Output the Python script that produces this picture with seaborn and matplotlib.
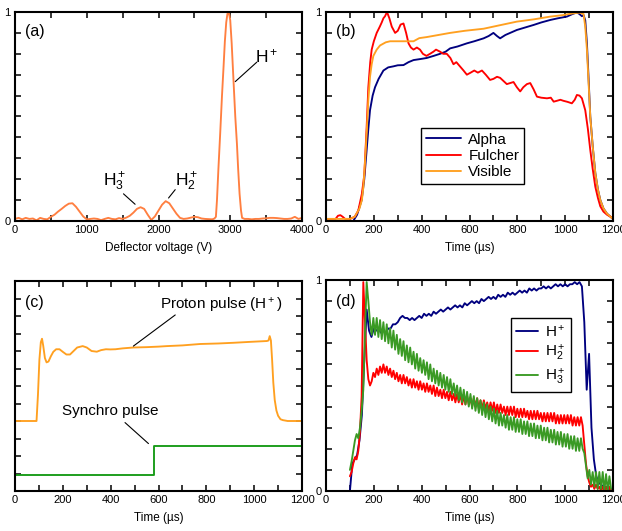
import numpy as np
import pandas as pd
import matplotlib
matplotlib.use("Agg")
import matplotlib.pyplot as plt
import seaborn as sns
from matplotlib.ticker import MultipleLocator, FixedLocator
from matplotlib.lines import Line2D

# ---------------- data ----------------
# (a) deflector voltage scan
volt_low = list(range(0, 2751, 50))
sig_low = [0.01, 0.015, 0.008, 0.015, 0.01, 0.012, 0.003, 0.015, 0.01, 0.008,
           0.02, 0.03, 0.045, 0.058, 0.072, 0.083, 0.085, 0.068, 0.045, 0.022,
           0.008, 0.01, 0.012, 0.01, 0.004, 0.01, 0.015, 0.01, 0.008, 0.014,
           0.01, 0.016, 0.025, 0.04, 0.058, 0.066, 0.058, 0.03, 0.005, 0.022,
           0.05, 0.078, 0.095, 0.085, 0.06, 0.035, 0.015, 0.01, 0.012, 0.016,
           0.02, 0.018, 0.012, 0.01, 0.009, 0.008]
volt_peak = [2780, 2800, 2815, 2835, 2860, 2885, 2907, 2925, 2944, 2960, 2972,
             2985, 3000, 3020, 3047, 3070, 3093, 3110, 3130, 3150, 3165]
sig_peak = [0.012, 0.02, 0.1, 0.25, 0.42, 0.6, 0.74, 0.86, 0.95, 0.99, 1.0,
            0.99, 0.96, 0.85, 0.66, 0.5, 0.37, 0.25, 0.13, 0.05, 0.015]
volt_high = list(range(3200, 4001, 50))
sig_high = [0.01, 0.01, 0.008, 0.01, 0.01, 0.012, 0.013, 0.015, 0.015, 0.014,
            0.012, 0.01, 0.01, 0.012, 0.02, 0.01, 0.015]

# (b) spectroscopy signals
t_alpha = [0, 50, 100, 114, 130, 149, 160, 170, 177, 184,
           195, 205, 220, 240, 260, 282, 300, 324, 345, 366,
           395, 421, 450, 477, 500, 519, 550, 589, 620, 659,
           680, 700, 715, 728, 750, 798, 830, 868, 900, 938,
           970, 1007, 1030, 1049, 1060, 1070, 1077, 1084, 1091, 1098,
           1105, 1115, 1126, 1137, 1147, 1160, 1175, 1190, 1200]
alpha = [0.0, 0.0, 0.0, 0.0, 0.03, 0.10, 0.20, 0.34, 0.44, 0.53,
         0.60, 0.64, 0.68, 0.72, 0.735, 0.74, 0.745, 0.746, 0.76, 0.77,
         0.775, 0.78, 0.79, 0.80, 0.81, 0.826, 0.835, 0.85, 0.86, 0.874,
         0.885, 0.90, 0.885, 0.874, 0.89, 0.914, 0.925, 0.938, 0.95, 0.962,
         0.97, 0.978, 0.99, 0.998, 0.99, 0.98, 0.985, 0.96, 0.85, 0.68,
         0.50, 0.36, 0.23, 0.15, 0.10, 0.06, 0.035, 0.02, 0.01]
t_fulcher = [0, 20, 40, 50, 60, 70, 80, 100, 120, 135,
             150, 160, 170, 177, 185, 191, 200, 212, 225, 233,
             240, 247, 255, 265, 275, 289, 300, 312, 324, 335,
             345, 355, 366, 380, 393, 405, 420, 435, 449, 460,
             477, 490, 505, 520, 533, 545, 560, 575, 589, 605,
             620, 635, 652, 668, 686, 700, 715, 728, 742, 756,
             770, 784, 798, 812, 825, 840, 854, 868, 882, 900,
             924, 940, 952, 965, 980, 993, 1010, 1028, 1040, 1049,
             1060, 1070, 1084, 1095, 1105, 1115, 1126, 1137, 1147, 1160,
             1175, 1190, 1200]
fulcher = [0.01, 0.01, 0.01, 0.025, 0.028, 0.02, 0.01, 0.01, 0.02, 0.05,
           0.13, 0.22, 0.45, 0.64, 0.76, 0.82, 0.86, 0.90, 0.93, 0.95,
           0.97, 0.98, 1.0, 0.97, 0.93, 0.90, 0.91, 0.94, 0.945, 0.90,
           0.85, 0.83, 0.82, 0.83, 0.82, 0.80, 0.79, 0.80, 0.81, 0.82,
           0.81, 0.80, 0.80, 0.78, 0.75, 0.76, 0.74, 0.72, 0.70, 0.71,
           0.72, 0.71, 0.72, 0.70, 0.675, 0.68, 0.69, 0.685, 0.67, 0.655,
           0.66, 0.665, 0.64, 0.62, 0.64, 0.655, 0.66, 0.63, 0.595, 0.59,
           0.587, 0.59, 0.571, 0.575, 0.58, 0.575, 0.57, 0.563, 0.58, 0.603,
           0.60, 0.587, 0.53, 0.44, 0.34, 0.25, 0.164, 0.11, 0.07, 0.045,
           0.03, 0.02, 0.01]
t_visible = [0, 50, 100, 120, 140, 150, 156, 163, 170, 177,
             184, 191, 198, 212, 226, 250, 268, 300, 340, 366,
             390, 421, 470, 519, 580, 659, 720, 798, 870, 938,
             990, 1035, 1060, 1077, 1084, 1091, 1098, 1105, 1115, 1126,
             1137, 1147, 1160, 1175, 1190, 1200]
visible = [0.01, 0.01, 0.01, 0.02, 0.06, 0.10, 0.16, 0.28, 0.42, 0.58,
           0.69, 0.75, 0.79, 0.82, 0.84, 0.855, 0.86, 0.86, 0.86, 0.86,
           0.875, 0.88, 0.89, 0.90, 0.91, 0.92, 0.935, 0.954, 0.965, 0.978,
           0.985, 0.994, 0.997, 0.99, 0.93, 0.82, 0.66, 0.50, 0.36, 0.23,
           0.15, 0.10, 0.06, 0.035, 0.02, 0.01]

# (c) proton pulse and synchro pulse (arbitrary units)
t_proton = [0, 90, 96, 102, 108, 113, 118, 125, 132, 140,
            150, 160, 172, 186, 200, 215, 230, 245, 260, 283,
            300, 320, 342, 360, 380, 398, 420, 450, 495, 550,
            600, 635, 700, 774, 850, 914, 980, 1053, 1060, 1065,
            1070, 1075, 1080, 1086, 1093, 1100, 1110, 1120, 1140, 1200]
proton = [4.0, 4.0, 5.5, 7.5, 8.5, 8.7, 8.3, 7.6, 7.35, 7.4,
          7.7, 7.95, 8.1, 8.1, 7.95, 7.8, 7.8, 8.0, 8.2, 8.28,
          8.2, 8.0, 7.96, 8.05, 8.1, 8.09, 8.1, 8.15, 8.2, 8.22,
          8.25, 8.28, 8.32, 8.4, 8.43, 8.47, 8.52, 8.57, 8.6, 8.85,
          8.6, 7.5, 6.2, 5.2, 4.6, 4.3, 4.1, 4.05, 4.0, 4.0]
t_synchro = [0, 583, 583, 1200]
synchro = [0.9, 0.9, 2.6, 2.6]

# (d) ion species signals
t_hp = list(range(100, 1201, 10))
h_plus = [0.00, 0.13, 0.15, 0.17, 0.24, 0.36, 0.62, 0.86, 0.76, 0.73,
          0.77, 0.76, 0.77, 0.75, 0.76, 0.75, 0.77, 0.77, 0.79, 0.79,
          0.80, 0.82, 0.83, 0.82, 0.82, 0.81, 0.82, 0.81, 0.82, 0.83,
          0.82, 0.84, 0.83, 0.84, 0.83, 0.85, 0.84, 0.85, 0.86, 0.85,
          0.86, 0.87, 0.86, 0.87, 0.88, 0.87, 0.88, 0.87, 0.89, 0.88,
          0.89, 0.90, 0.89, 0.90, 0.89, 0.91, 0.90, 0.91, 0.92, 0.91,
          0.92, 0.91, 0.93, 0.92, 0.93, 0.92, 0.94, 0.93, 0.94, 0.93,
          0.94, 0.95, 0.94, 0.95, 0.94, 0.96, 0.95, 0.96, 0.95, 0.96,
          0.96, 0.97, 0.96, 0.97, 0.96, 0.97, 0.98, 0.97, 0.98, 0.97,
          0.98, 0.97, 0.98, 0.98, 0.99, 0.98, 0.99, 0.97, 0.80, 0.48,
          0.65, 0.30, 0.15, 0.07, 0.04, 0.03, 0.02, 0.02, 0.01, 0.01,
          0.01]
t_ion = list(range(100, 1193, 7))
h2_plus = [0.07, 0.09, 0.13, 0.16, 0.15, 0.19, 0.28, 0.45, 0.99, 0.80,
           0.62, 0.53, 0.50, 0.52, 0.56, 0.54, 0.58, 0.55, 0.59, 0.56,
           0.60, 0.56, 0.59, 0.55, 0.58, 0.54, 0.57, 0.53, 0.56, 0.52,
           0.55, 0.51, 0.55, 0.51, 0.54, 0.50, 0.53, 0.49, 0.53, 0.49,
           0.52, 0.48, 0.52, 0.48, 0.51, 0.47, 0.51, 0.47, 0.50, 0.46,
           0.50, 0.45, 0.49, 0.45, 0.48, 0.44, 0.48, 0.44, 0.47, 0.43,
           0.47, 0.43, 0.46, 0.42, 0.46, 0.42, 0.46, 0.41, 0.45, 0.41,
           0.45, 0.41, 0.44, 0.40, 0.44, 0.40, 0.44, 0.39, 0.43, 0.39,
           0.43, 0.39, 0.42, 0.38, 0.42, 0.38, 0.42, 0.37, 0.41, 0.37,
           0.41, 0.37, 0.40, 0.36, 0.40, 0.36, 0.40, 0.36, 0.40, 0.35,
           0.39, 0.35, 0.39, 0.35, 0.39, 0.35, 0.38, 0.34, 0.38, 0.34,
           0.38, 0.34, 0.38, 0.34, 0.37, 0.33, 0.37, 0.33, 0.37, 0.33,
           0.37, 0.33, 0.37, 0.32, 0.36, 0.32, 0.36, 0.32, 0.36, 0.32,
           0.36, 0.32, 0.36, 0.31, 0.35, 0.31, 0.35, 0.31, 0.35, 0.31,
           0.22, 0.13, 0.07, 0.04, 0.02, 0.03, 0.01, 0.03, 0.01, 0.02,
           0.00, 0.02, 0.00, 0.02, 0.00, 0.02, 0.00]
h3_plus = [0.10, 0.14, 0.19, 0.24, 0.27, 0.25, 0.30, 0.38, 0.48, 0.75,
           0.99, 0.90, 0.80, 0.74, 0.82, 0.74, 0.82, 0.73, 0.81, 0.72,
           0.80, 0.71, 0.79, 0.70, 0.77, 0.68, 0.76, 0.67, 0.74, 0.65,
           0.72, 0.64, 0.71, 0.62, 0.69, 0.61, 0.68, 0.60, 0.66, 0.58,
           0.65, 0.57, 0.63, 0.56, 0.62, 0.55, 0.61, 0.53, 0.60, 0.52,
           0.58, 0.51, 0.57, 0.50, 0.56, 0.49, 0.55, 0.48, 0.54, 0.47,
           0.53, 0.46, 0.51, 0.45, 0.50, 0.43, 0.49, 0.42, 0.48, 0.41,
           0.47, 0.40, 0.46, 0.39, 0.45, 0.38, 0.44, 0.37, 0.43, 0.36,
           0.42, 0.35, 0.41, 0.34, 0.40, 0.33, 0.39, 0.32, 0.38, 0.31,
           0.37, 0.31, 0.36, 0.30, 0.36, 0.29, 0.35, 0.29, 0.35, 0.28,
           0.34, 0.28, 0.34, 0.27, 0.33, 0.27, 0.33, 0.26, 0.32, 0.26,
           0.32, 0.25, 0.31, 0.25, 0.31, 0.24, 0.30, 0.24, 0.30, 0.23,
           0.29, 0.23, 0.29, 0.22, 0.28, 0.22, 0.28, 0.21, 0.27, 0.21,
           0.27, 0.20, 0.26, 0.20, 0.26, 0.19, 0.25, 0.19, 0.25, 0.20,
           0.18, 0.12, 0.06, 0.10, 0.03, 0.09, 0.02, 0.09, 0.01, 0.09,
           0.01, 0.09, 0.00, 0.08, 0.00, 0.07, 0.01]

# ---------------- style ----------------
sns.set_style("ticks")
plt.rcParams.update({
    "axes.edgecolor": "black", "xtick.color": "black", "ytick.color": "black",
    "text.color": "black", "axes.labelcolor": "black",
    "mathtext.fontset": "custom", "mathtext.rm": "Liberation Sans",
    "mathtext.it": "Liberation Sans:italic", "mathtext.bf": "Liberation Sans:bold",
})
plt.rcParams["font.family"] = ["Liberation Sans", "DejaVu Sans"]

fig = plt.figure(figsize=(6.22, 5.31), dpi=100)
W, H = 622, 531
def add_ax(l, t, r, b):
    return fig.add_axes([l / W, 1 - b / H, (r - l) / W, (b - t) / H])

ax_a = add_ax(15, 12, 302, 221)
ax_b = add_ax(326, 12, 613, 221)
ax_c = add_ax(15, 281, 302, 491)
ax_d = add_ax(326, 280, 613, 491)

lw = 1.35
C_A = "#FF7F40"
NAVY = "#00007F"
RED = "#FF0000"
ORANGE = "#FFA020"
GREEN_C = "#169A16"
GREEN_D = "#3A9A24"

# (a)
sns.lineplot(x=volt_low + volt_peak + volt_high, y=sig_low + sig_peak + sig_high,
             ax=ax_a, color=C_A, lw=lw, estimator=None, sort=False)
# (b)
sns.lineplot(x=t_alpha, y=alpha, ax=ax_b, color=NAVY, lw=lw, estimator=None, sort=False)
sns.lineplot(x=t_fulcher, y=fulcher, ax=ax_b, color=RED, lw=lw, estimator=None, sort=False)
sns.lineplot(x=t_visible, y=visible, ax=ax_b, color=ORANGE, lw=lw, estimator=None, sort=False)
# (c)
sns.lineplot(x=t_proton, y=proton, ax=ax_c, color=ORANGE, lw=lw, estimator=None, sort=False)
sns.lineplot(x=t_synchro, y=synchro, ax=ax_c, color=GREEN_C, lw=lw, estimator=None, sort=False)
# (d)
sns.lineplot(x=t_hp, y=h_plus, ax=ax_d, color=NAVY, lw=lw, estimator=None, sort=False)
sns.lineplot(x=t_ion, y=h2_plus, ax=ax_d, color=RED, lw=lw, estimator=None, sort=False)
sns.lineplot(x=t_ion, y=h3_plus, ax=ax_d, color=GREEN_D, lw=lw, estimator=None, sort=False)


def style(ax, xmax, xmaj, xmin, ymax, ymin, ylab=True):
    ax.set_xlim(0, xmax)
    ax.set_ylim(0, ymax)
    ax.xaxis.set_major_locator(MultipleLocator(xmaj))
    ax.xaxis.set_minor_locator(MultipleLocator(xmin))
    ax.yaxis.set_major_locator(FixedLocator([0, ymax]))
    ax.yaxis.set_minor_locator(MultipleLocator(ymin))
    if ylab:
        ax.set_yticklabels(["0", "1"])
    ax.tick_params(which="both", direction="in", top=True, right=True,
                   length=4.5, width=1.1, labelsize=8, pad=3)
    for sp in ax.spines.values():
        sp.set_linewidth(1.5)
        sp.set_color("black")
    ax.set_ylabel("")


style(ax_a, 4000, 1000, 500, 1, 0.1)
style(ax_b, 1200, 200, 100, 1, 0.1)
style(ax_c, 1200, 200, 100, 12, 1, ylab=False)
ax_c.yaxis.set_major_locator(MultipleLocator(1))
ax_c.tick_params(axis="y", which="both", labelleft=False)
style(ax_d, 1200, 200, 100, 1, 0.1)

ax_a.set_xlabel("Deflector voltage (V)", fontsize=8.5, labelpad=5)
for ax in (ax_b, ax_c, ax_d):
    ax.set_xlabel("Time (\u00b5s)", fontsize=8.5, labelpad=5)

for ax, lab, y in ((ax_a, "(a)", 0.905), (ax_b, "(b)", 0.905),
                   (ax_c, "(c)", 0.90), (ax_d, "(d)", 0.90)):
    ax.text(0.035, y, lab, transform=ax.transAxes, fontsize=11.5,
            ha="left", va="center")

# annotations (a)
ann = dict(arrowstyle="-", lw=0.8, color="black", shrinkA=0, shrinkB=0)
ax_a.text(3510, 0.79, "H$^+$", fontsize=12.5, ha="center", va="center")
ax_a.annotate("", xy=(3070, 0.667), xytext=(3370, 0.76), arrowprops=ann)
ax_a.text(1395, 0.19, "H$_3^+$", fontsize=12.5, ha="center", va="center")
ax_a.annotate("", xy=(1674, 0.08), xytext=(1512, 0.13), arrowprops=ann)
ax_a.text(2395, 0.19, "H$_2^+$", fontsize=12.5, ha="center", va="center")
ax_a.annotate("", xy=(2140, 0.11), xytext=(2233, 0.15), arrowprops=ann)

# annotations (c)
ax_c.text(861, 10.6, "Proton pulse (H$^+$)", fontsize=11, ha="center", va="center")
ax_c.annotate("", xy=(495, 8.28), xytext=(670, 10.06), arrowprops=ann)
ax_c.text(398, 4.55, "Synchro pulse", fontsize=11, ha="center", va="center")
ax_c.annotate("", xy=(558, 2.71), xytext=(460, 3.91), arrowprops=ann)

# legends
hb = [Line2D([], [], color=c, lw=lw) for c in (NAVY, RED, ORANGE)]
leg = ax_b.legend(hb, ["Alpha", "Fulcher", "Visible"], loc="upper left",
                  bbox_to_anchor=(0.331, 0.445), borderaxespad=0, fontsize=11,
                  frameon=True, fancybox=False, edgecolor="black", framealpha=1,
                  handlelength=2.3, handletextpad=0.5, labelspacing=0.15,
                  borderpad=0.3)
leg.get_frame().set_linewidth(1.0)

hd = [Line2D([], [], color=c, lw=lw) for c in (NAVY, RED, GREEN_D)]
leg = ax_d.legend(hd, ["H$^+$", "H$_2^+$", "H$_3^+$"], loc="upper left",
                  bbox_to_anchor=(0.645, 0.82), borderaxespad=0, fontsize=11,
                  frameon=True, fancybox=False, edgecolor="black", framealpha=1,
                  handlelength=1.4, handletextpad=0.5, labelspacing=0.25,
                  borderpad=0.35)
leg.get_frame().set_linewidth(1.0)

fig.savefig("out.png", dpi=100)
